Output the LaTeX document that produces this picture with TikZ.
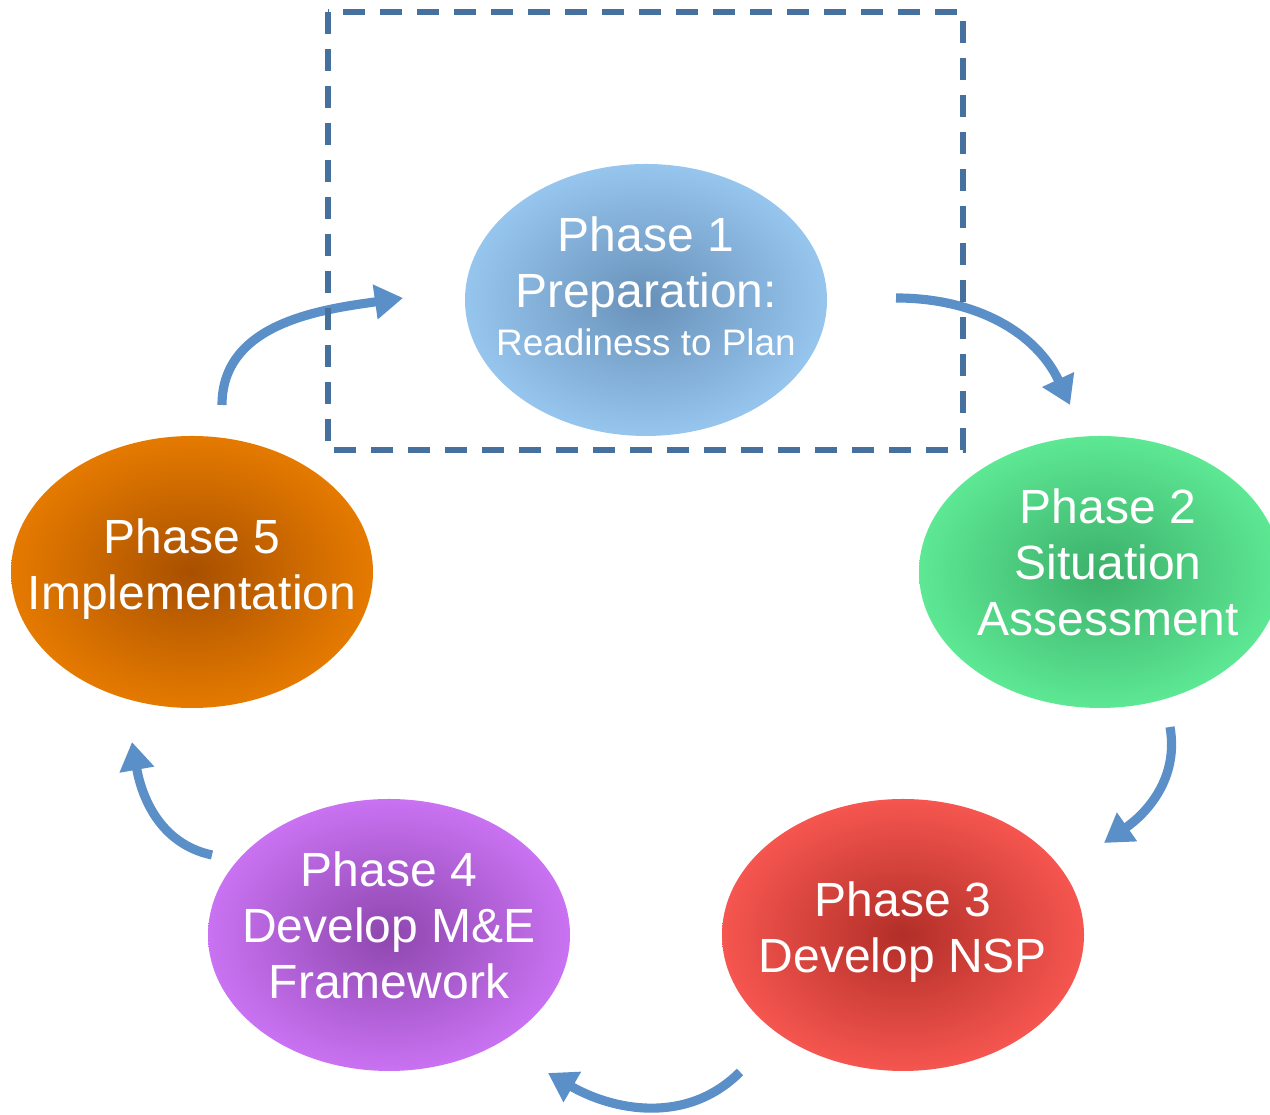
\documentclass[tikz,border=0pt]{standalone}
\usepackage{fontspec}
\setmainfont{Liberation Sans}
\usetikzlibrary{shapes.geometric,arrows.meta}

\definecolor{arrowblue}{HTML}{5B8FC7}
\definecolor{boxblue}{HTML}{46709E}

\tikzset{
  phase/.style={ellipse, minimum width=3.62cm, minimum height=2.72cm, inner sep=0pt},
  txt/.style={text=white, align=center, font=\fontsize{13.66pt}{15.9pt}\selectfont},
  cyc/.style={draw=arrowblue, line width=2.6pt, -{Triangle[width=9.5pt,length=8pt]}}
}

\begin{document}
\begin{tikzpicture}[scale=1]
\useasboundingbox (0,0) rectangle (12.7,11.15);

% the five phases
\node[phase, inner color={rgb,255:red,104;green,145;blue,185}, outer color={rgb,255:red,150;green,197;blue,238}] (p1) at (6.46,8.15) {};
\node[phase, inner color={rgb,255:red,60;green,176;blue,106}, outer color={rgb,255:red,93;green,232;blue,148}] (p2) at (11.00,5.43) {};
\node[phase, inner color={rgb,255:red,178;green,46;blue,40}, outer color={rgb,255:red,245;green,86;blue,79}] (p3) at (9.03,1.80) {};
\node[phase, inner color={rgb,255:red,142;green,71;blue,174}, outer color={rgb,255:red,201;green,114;blue,242}] (p4) at (3.89,1.80) {};
\node[phase, inner color={rgb,255:red,168;green,80;blue,0}, outer color={rgb,255:red,229;green,122;blue,0}] (p5) at (1.92,5.43) {};

\node[txt] (t1) at (6.46,8.29) {Phase 1\\Preparation:\\[-0.08cm]{\fontsize{10.5pt}{12pt}\selectfont Readiness to Plan}};
\node[txt] (t2) at (11.08,5.53) {Phase 2\\Situation\\Assessment};
\node[txt] (t3) at (9.03,1.83) {Phase 3\\Develop NSP};
\node[txt] (t4) at (3.89,1.90) {Phase 4\\Develop M\&E\\Framework};
\node[txt] (t5) at (1.92,5.46) {Phase 5\\Implementation};

% arrow ends
\coordinate (a1s) at (2.22,7.10); \coordinate (a1e) at (4.03,8.17);
\coordinate (a2s) at (8.96,8.17); \coordinate (a2e) at (10.70,7.10);
\coordinate (a3s) at (11.70,3.88); \coordinate (a3e) at (11.04,2.72);
\coordinate (a4s) at (7.40,0.43); \coordinate (a4e) at (5.48,0.42);
\coordinate (a5s) at (2.12,2.60); \coordinate (a5e) at (1.32,3.73);

\draw[cyc] (a1s) to[out=90,in=188] (a1e);
\draw[cyc] (a2s) to[out=0,in=115] (a2e);
\draw[cyc] (a3s) to[out=-80,in=35] (a3e);
\draw[cyc] (a4s) to[out=-135,in=-30] (a4e);
\draw[cyc] (a5s) to[out=168,in=-80] (a5e);

% dashed frame round phase 1
\draw[boxblue, line width=1.45pt, dash pattern=on 0.22cm off 0.15cm] (3.28,11.03) rectangle (9.63,6.65);

\end{tikzpicture}
\end{document}
